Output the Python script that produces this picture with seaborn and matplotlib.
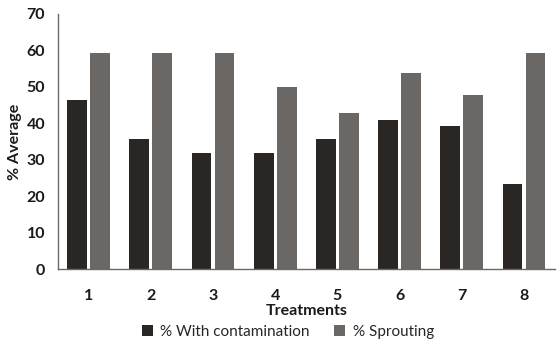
import matplotlib
matplotlib.use("Agg")
import matplotlib.pyplot as plt
import seaborn as sns
import pandas as pd
from matplotlib.patches import Patch

treatments = ["1", "2", "3", "4", "5", "6", "7", "8"]
contamination = [46.5, 35.7, 31.9, 31.9, 35.7, 41.0, 39.2, 23.4]
sprouting = [59.3, 59.3, 59.3, 49.9, 42.9, 53.7, 47.8, 59.3]
series_names = ["% With contamination", "% Sprouting"]
yticks = [0, 10, 20, 30, 40, 50, 60, 70]

df = pd.DataFrame({
    "Treatment": treatments * 2,
    "Value": contamination + sprouting,
    "Series": [series_names[0]] * len(treatments) + [series_names[1]] * len(treatments),
})

sns.set_style("white")
plt.rcParams["font.family"] = ["Lato", "DejaVu Sans"]

colors = ["#2a2624", "#6a6765"]
fig = plt.figure(figsize=(5.57, 3.41), dpi=100)
ax = fig.add_axes([0.1033, 0.2097, 0.8931, 0.7493])
sns.barplot(data=df, x="Treatment", y="Value", hue="Series", palette=colors,
            width=0.74, gap=0.14, ax=ax, legend=False, saturation=1,
            edgecolor="none")

ax.set_ylim(0, 70)
ax.set_yticks(yticks)
ax.set_xlim(-0.5, 7.5)
for lab in ax.get_yticklabels() + ax.get_xticklabels():
    lab.set_fontweight("bold")
    lab.set_fontsize(11.5)
    lab.set_color("#1a1a1a")
ax.tick_params(axis="y", length=0, pad=9)
ax.tick_params(axis="x", length=0, pad=14)
ax.set_xlabel("Treatments", fontsize=11.5, fontweight="bold", labelpad=1, color="#1a1a1a")
ax.set_ylabel("% Average", fontsize=11.5, fontweight="bold", labelpad=3, color="#1a1a1a")
for s in ["top", "right"]:
    ax.spines[s].set_visible(False)
for s in ["left", "bottom"]:
    ax.spines[s].set_color("#6e6660")
    ax.spines[s].set_linewidth(1.0)

handles = [Patch(facecolor=c, edgecolor="none") for c in colors]
fig.legend(handles, series_names, loc="center", bbox_to_anchor=(0.517, 0.027),
           ncol=2, frameon=False, fontsize=11, handlelength=0.7, handleheight=0.7,
           handletextpad=0.5, columnspacing=1.6)

fig.savefig("out.png", dpi=100)
